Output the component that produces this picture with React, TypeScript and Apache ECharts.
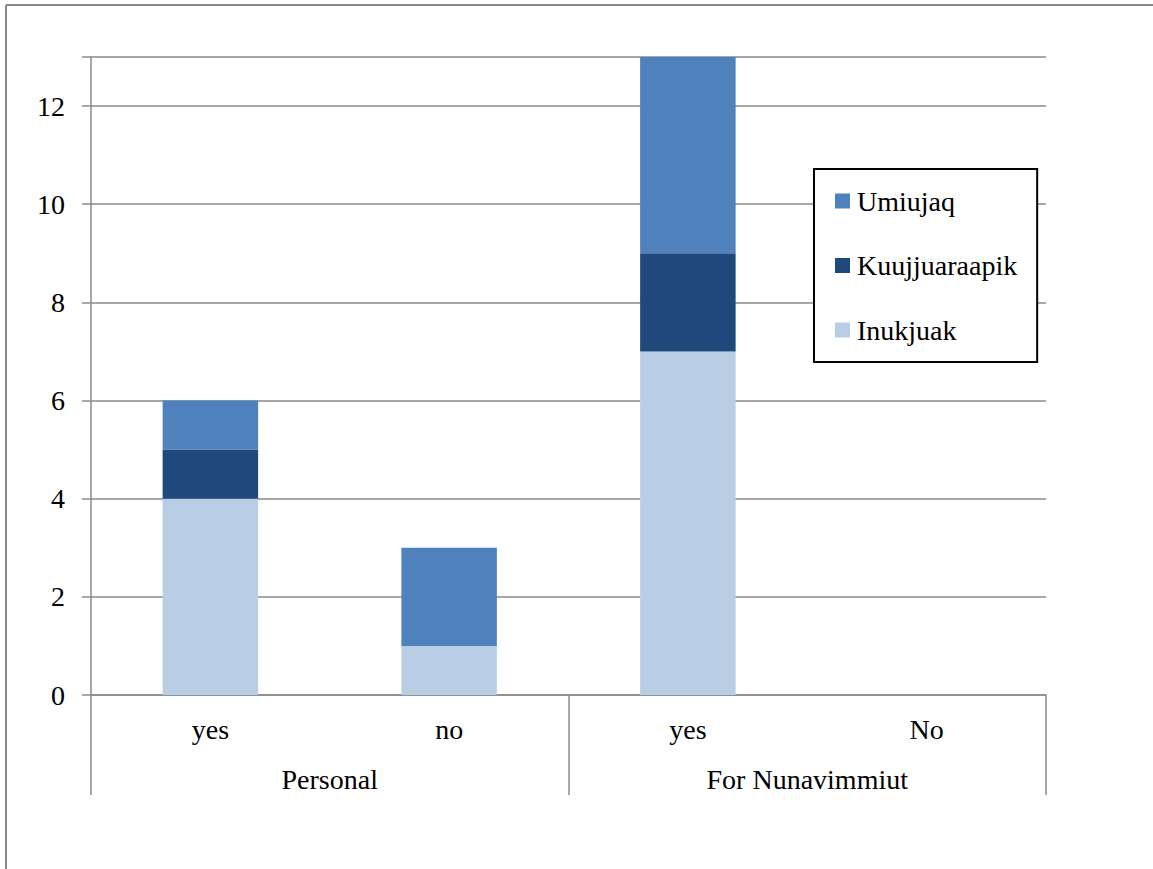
import React, { useEffect, useRef } from "react";
import * as echarts from "echarts";

const categories = ["yes", "no", "yes", "No"];
const groups = ["Personal", "For Nunavimmiut"];
const inukjuak = [4, 1, 7, 0];
const kuujjuaraapik = [1, 0, 2, 0];
const umiujaq = [1, 2, 4, 0];
const yTicks = [0, 2, 4, 6, 8, 10, 12];

const FONT = "Liberation Serif";
const GRAY = "#8a8a8a";
const FS = 28;

export default function App() {
  const ref = useRef<HTMLDivElement>(null);
  useEffect(() => {
    const chart = echarts.init(ref.current!, null, { renderer: "svg" });
    chart.setOption({
      animation: false,
      backgroundColor: "#fff",
      textStyle: { fontFamily: FONT },
      grid: { left: 91, right: 107, top: 57, bottom: 174, containLabel: false },
      legend: {
        orient: "vertical",
        left: 814,
        top: 169,
        data: ["Umiujaq", "Kuujjuaraapik", "Inukjuak"],
        itemWidth: 15,
        itemHeight: 15,
        itemGap: 36.5,
        padding: [18, 20, 18, 21],
        borderColor: "#000",
        borderWidth: 2,
        backgroundColor: "#fff",
        icon: "rect",
        textStyle: { fontFamily: FONT, fontSize: FS, color: "#000", lineHeight: 22, padding: [0, 0, 0, 2] },
      },
      xAxis: [
        {
          type: "category",
          data: categories,
          position: "bottom",
          axisLine: { show: true, lineStyle: { color: GRAY, width: 1.5 } },
          axisTick: { show: false },
          axisLabel: { fontFamily: FONT, fontSize: FS, color: "#000", margin: 20 },
        },
        {
          type: "category",
          data: groups,
          position: "bottom",
          axisLine: { show: false },
          axisTick: { show: true, length: 100, interval: 0, lineStyle: { color: GRAY, width: 1.5 } },
          axisLabel: { fontFamily: FONT, fontSize: FS, color: "#000", margin: 70, interval: 0 },
        },
      ],
      yAxis: {
        type: "value",
        min: 0,
        max: 13,
        interval: 2,
        axisLine: { show: true, lineStyle: { color: GRAY, width: 1.5 } },
        axisTick: { show: true, length: 9, lineStyle: { color: GRAY, width: 1.5 } },
        splitLine: { show: true, lineStyle: { color: GRAY, width: 1.5 } },
        axisLabel: {
          fontFamily: FONT,
          fontSize: FS,
          color: "#000",
          margin: 26,
          formatter: (v: number) => (yTicks.includes(v) ? String(v) : ""),
        },
      },
      series: [
        {
          name: "Inukjuak",
          type: "bar",
          stack: "s",
          data: inukjuak,
          barWidth: "40%",
          itemStyle: { color: "#B9CDE5" },
        },
        {
          name: "Kuujjuaraapik",
          type: "bar",
          stack: "s",
          data: kuujjuaraapik,
          barWidth: "40%",
          itemStyle: { color: "#1F497D" },
        },
        {
          name: "Umiujaq",
          type: "bar",
          stack: "s",
          data: umiujaq,
          barWidth: "40%",
          itemStyle: { color: "#4F81BD" },
        },
      ],
      graphic: [
        { type: "line", shape: { x1: 6, y1: 5, x2: 1153, y2: 5 }, style: { stroke: "#888", lineWidth: 2 } },
        { type: "line", shape: { x1: 6, y1: 5, x2: 6, y2: 869 }, style: { stroke: "#888", lineWidth: 2 } },
      ],
    });
    return () => chart.dispose();
  }, []);
  return <div ref={ref} style={{ width: 1153, height: 869, position: "absolute", left: 0, top: 0 }} />;
}
